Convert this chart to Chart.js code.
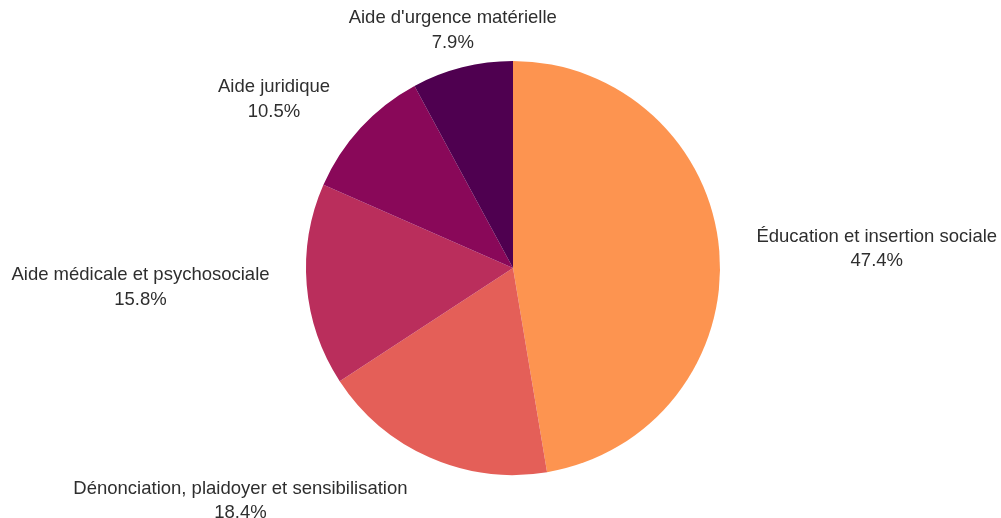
<!DOCTYPE html>
<html lang="fr">
<head>
<meta charset="utf-8">
<title>Répartition des aides</title>
<script src="https://cdn.jsdelivr.net/npm/chart.js@4.4.1/dist/chart.umd.min.js"></script>
<style>
  html, body { margin: 0; padding: 0; background: #fff; }
  canvas { display: block; }
</style>
</head>
<body>
<canvas id="pieChart" width="1001" height="518"></canvas>
<script>
'use strict';

// --- data ---
const LABELS = [
  'Éducation et insertion sociale',
  'Dénonciation, plaidoyer et sensibilisation',
  'Aide médicale et psychosociale',
  'Aide juridique',
  "Aide d'urgence matérielle",
];
const COUNTS = [18, 7, 6, 4, 3];
const COLORS = ['#fd9450', '#e45f58', '#ba2e5c', '#890859', '#4f0050'];

const FONT = '18.5px "Liberation Sans", Arial, sans-serif';
const LINE_H = 24.5;

// labels outside the pie: name + share, placed along each slice's mid ray
const outsideLabels = {
  id: 'outsideLabels',
  afterDatasetsDraw(chart) {
    const ctx = chart.ctx;
    const meta = chart.getDatasetMeta(0);
    const total = COUNTS.reduce((a, b) => a + b, 0);
    ctx.save();
    ctx.font = FONT;
    ctx.fillStyle = '#2e2e2e';
    ctx.textAlign = 'center';
    ctx.textBaseline = 'middle';
    meta.data.forEach((arc, i) => {
      const p = arc.getProps(['x', 'y', 'startAngle', 'endAngle', 'outerRadius'], true);
      const mid = (p.startAngle + p.endAngle) / 2;
      const ux = Math.cos(mid), uy = Math.sin(mid);
      const lines = [LABELS[i], (COUNTS[i] / total * 100).toFixed(1) + '%'];
      const w = Math.max(...lines.map(s => ctx.measureText(s).width));
      const h = lines.length * LINE_H;
      const sx = ux < 0 ? -1 : 1, sy = uy < 0 ? -1 : 1;
      let cx, cy;
      if (Math.abs(ux) < 0.3) {
        // near top / bottom: keep the box centred over the slice
        const r = p.outerRadius + 13;
        cx = p.x + r * ux + sx * w * 0.03;
        cy = p.y + r * uy + sy * h / 2;
      } else {
        const r = p.outerRadius + 25;
        cx = p.x + r * ux + sx * (w / 2 + h / 4);
        cy = p.y + r * uy + sy * (h / 2) * uy * uy;
      }
      lines.forEach((s, k) => {
        ctx.fillText(s, cx, cy + (k - (lines.length - 1) / 2) * LINE_H);
      });
    });
    ctx.restore();
  },
};

new Chart(document.getElementById('pieChart').getContext('2d'), {
  type: 'pie',
  data: {
    labels: LABELS,
    datasets: [{
      data: COUNTS,
      backgroundColor: COLORS,
      borderWidth: 0,
    }],
  },
  options: {
    responsive: false,
    animation: false,
    layout: { padding: { top: 61, bottom: 43, left: 25, right: 0 } },
    plugins: {
      legend: { display: false },
      tooltip: { enabled: false },
    },
  },
  plugins: [outsideLabels],
});
</script>
</body>
</html>
